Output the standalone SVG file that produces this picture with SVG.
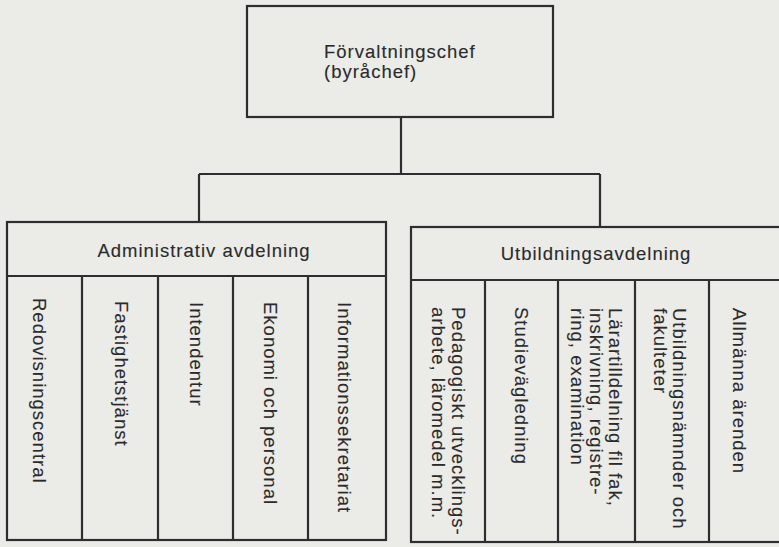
<svg xmlns="http://www.w3.org/2000/svg" width="779" height="547" viewBox="0 0 779 547">
  <style>
    .box { fill: none; stroke: #2e2e30; stroke-width: 2.2; }
    .line { fill: none; stroke: #2e2e30; stroke-width: 2.2; }
    .lbl { font-family: "Liberation Sans", Arial, sans-serif; font-size: 18.5px; letter-spacing: 1px; fill: #2a2a2c; stroke: #2a2a2c; stroke-width: 0.12; }
    .mid { text-anchor: middle; }
  </style>
  <rect width="779" height="547" fill="#ebebe7"/>

  <!-- connectors -->
  <g id="connectors">
    <path class="line" d="M401 117 V174"/>
    <path class="line" d="M199 174 H600"/>
    <path class="line" d="M199 174 V222"/>
    <path class="line" d="M600 174 V227"/>
  </g>

  <!-- head of administration -->
  <g id="chef">
    <rect class="box" x="247" y="6" width="306" height="111"/>
    <text class="lbl" x="324" y="58">Förvaltningschef</text>
    <text class="lbl" x="324" y="78">(byråchef)</text>
  </g>

  <!-- administrative department -->
  <g id="admin">
    <rect class="box" x="7" y="222" width="379" height="318"/>
    <path class="line" d="M7 276 H386 M82 276 V540 M158 276 V540 M233 276 V540 M308 276 V540"/>
    <text class="lbl mid" x="204" y="257">Administrativ avdelning</text>
  </g>
  <g id="admin-redovisning">
    <text class="lbl" transform="translate(33 298) rotate(90)">Redovisningscentral</text>
  </g>
  <g id="admin-fastighet">
    <text class="lbl" transform="translate(115 301) rotate(90)">Fastighetstjänst</text>
  </g>
  <g id="admin-intendentur">
    <text class="lbl" transform="translate(190 302) rotate(90)">Intendentur</text>
  </g>
  <g id="admin-ekonomi">
    <text class="lbl" transform="translate(264 302) rotate(90)">Ekonomi och personal</text>
  </g>
  <g id="admin-information">
    <text class="lbl" transform="translate(338 302) rotate(90)">Informationssekretariat</text>
  </g>

  <!-- education department -->
  <g id="utbildning">
    <rect class="box" x="411" y="227" width="380" height="315"/>
    <path class="line" d="M411 280 H791 M485 280 V542 M558 280 V542 M635 280 V542 M709 280 V542"/>
    <text class="lbl mid" x="596" y="260">Utbildningsavdelning</text>
  </g>
  <g id="utb-pedagogik">
    <text class="lbl" transform="translate(452 307) rotate(90)">Pedagogiskt utvecklings-</text>
    <text class="lbl" transform="translate(432 307) rotate(90)">arbete, läromedel m.m.</text>
  </g>
  <g id="utb-studievagledning">
    <text class="lbl" transform="translate(515 307) rotate(90)">Studievägledning</text>
  </g>
  <g id="utb-lararttilldelning">
    <text class="lbl" transform="translate(609 308) rotate(90)">Lärartilldelning fil fak,</text>
    <text class="lbl" transform="translate(590 308) rotate(90)">inskrivning, registre-</text>
    <text class="lbl" transform="translate(571 308) rotate(90)">ring, examination</text>
  </g>
  <g id="utb-namnder">
    <text class="lbl" transform="translate(673 308) rotate(90)">Utbildningsnämnder och</text>
    <text class="lbl" transform="translate(654 308) rotate(90)">fakulteter</text>
  </g>
  <g id="utb-allmanna">
    <text class="lbl" transform="translate(733 308) rotate(90)">Allmänna ärenden</text>
  </g>
</svg>
